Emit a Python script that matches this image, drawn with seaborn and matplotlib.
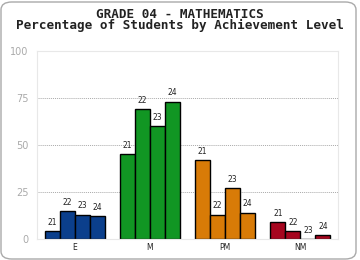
import matplotlib
matplotlib.use("Agg")
import matplotlib.pyplot as plt
import seaborn as sns
import pandas as pd
from matplotlib.patches import FancyBboxPatch

levels = ["E", "M", "PM", "NM"]
years = ["21", "22", "23", "24"]
e_vals = [4, 15, 13, 12]
m_vals = [45, 69, 60, 73]
pm_vals = [42, 13, 27, 14]
nm_vals = [9, 4, 0, 2]
colors = ["#0b3f8c", "#119623", "#d87b07", "#a6061f"]

rows = []
for lvl, vals in zip(levels, [e_vals, m_vals, pm_vals, nm_vals]):
    for yr, v in zip(years, vals):
        rows.append({"level": lvl, "year": yr, "value": v})
df = pd.DataFrame(rows)

sns.set_style("white")
plt.rcParams["font.family"] = ["DejaVu Sans"]

fig = plt.figure(figsize=(3.6, 2.6), dpi=100)
ax = fig.add_axes([37/360, 1-239/260, 301/360, (239-50.7)/260])

sns.barplot(data=df, x="level", y="value", hue="year", order=levels,
            hue_order=years, ax=ax, width=0.8, edgecolor="black",
            linewidth=1.0, legend=False, saturation=1)

# color bars by level
n_lv = len(levels)
for i, patch in enumerate(ax.patches):
    lvl_idx = i % n_lv
    patch.set_facecolor(colors[lvl_idx])

# labels
for ci, cont in enumerate(ax.containers):
    for bi, bar in enumerate(cont):
        x = bar.get_x() + bar.get_width()/2
        h = bar.get_height()
        ax.annotate(years[ci], (x, h), xytext=(0, 3), textcoords="offset points",
                    ha="center", va="bottom", fontsize=5.5, color="#222222")

ax.set_ylim(0, 100)
ax.set_xlim(-0.5, 3.5)
ax.set_yticks([0, 25, 50, 75, 100])
ax.set_yticklabels(["0", "25", "50", "75", "100"])
ax.set_xlabel("")
ax.set_ylabel("")
ax.tick_params(axis="y", labelsize=7, labelcolor="#aaaaaa", length=4,
               color="#666666", width=0.8, pad=2)
ax.tick_params(axis="x", labelsize=5.5, labelcolor="#222222", length=0, pad=3)
for y in [25, 50, 75]:
    ax.axhline(y, color="#aaaaaa", linestyle=(0, (1, 1)), linewidth=0.7, zorder=0)
for s in ax.spines.values():
    s.set_color("#e8e8e8")
    s.set_linewidth(0.8)

fig.text(0.5, 1-14/260, "GRADE 04 - MATHEMATICS", ha="center", va="center",
         fontsize=9.1, fontweight="bold", family="DejaVu Sans Mono", color="#222222")
fig.text(0.5, 1-25.5/260, "Percentage of Students by Achievement Level", ha="center",
         va="center", fontsize=9.1, fontweight="bold", family="DejaVu Sans Mono",
         color="#222222")

border = FancyBboxPatch((1/360, 1/260), 355/360, 257/260,
                        boxstyle="round,pad=0,rounding_size=0.03",
                        transform=fig.transFigure, fill=False,
                        edgecolor="#aaaaaa", linewidth=1.0)
fig.patches.append(border)

fig.savefig("out.png", dpi=100)
